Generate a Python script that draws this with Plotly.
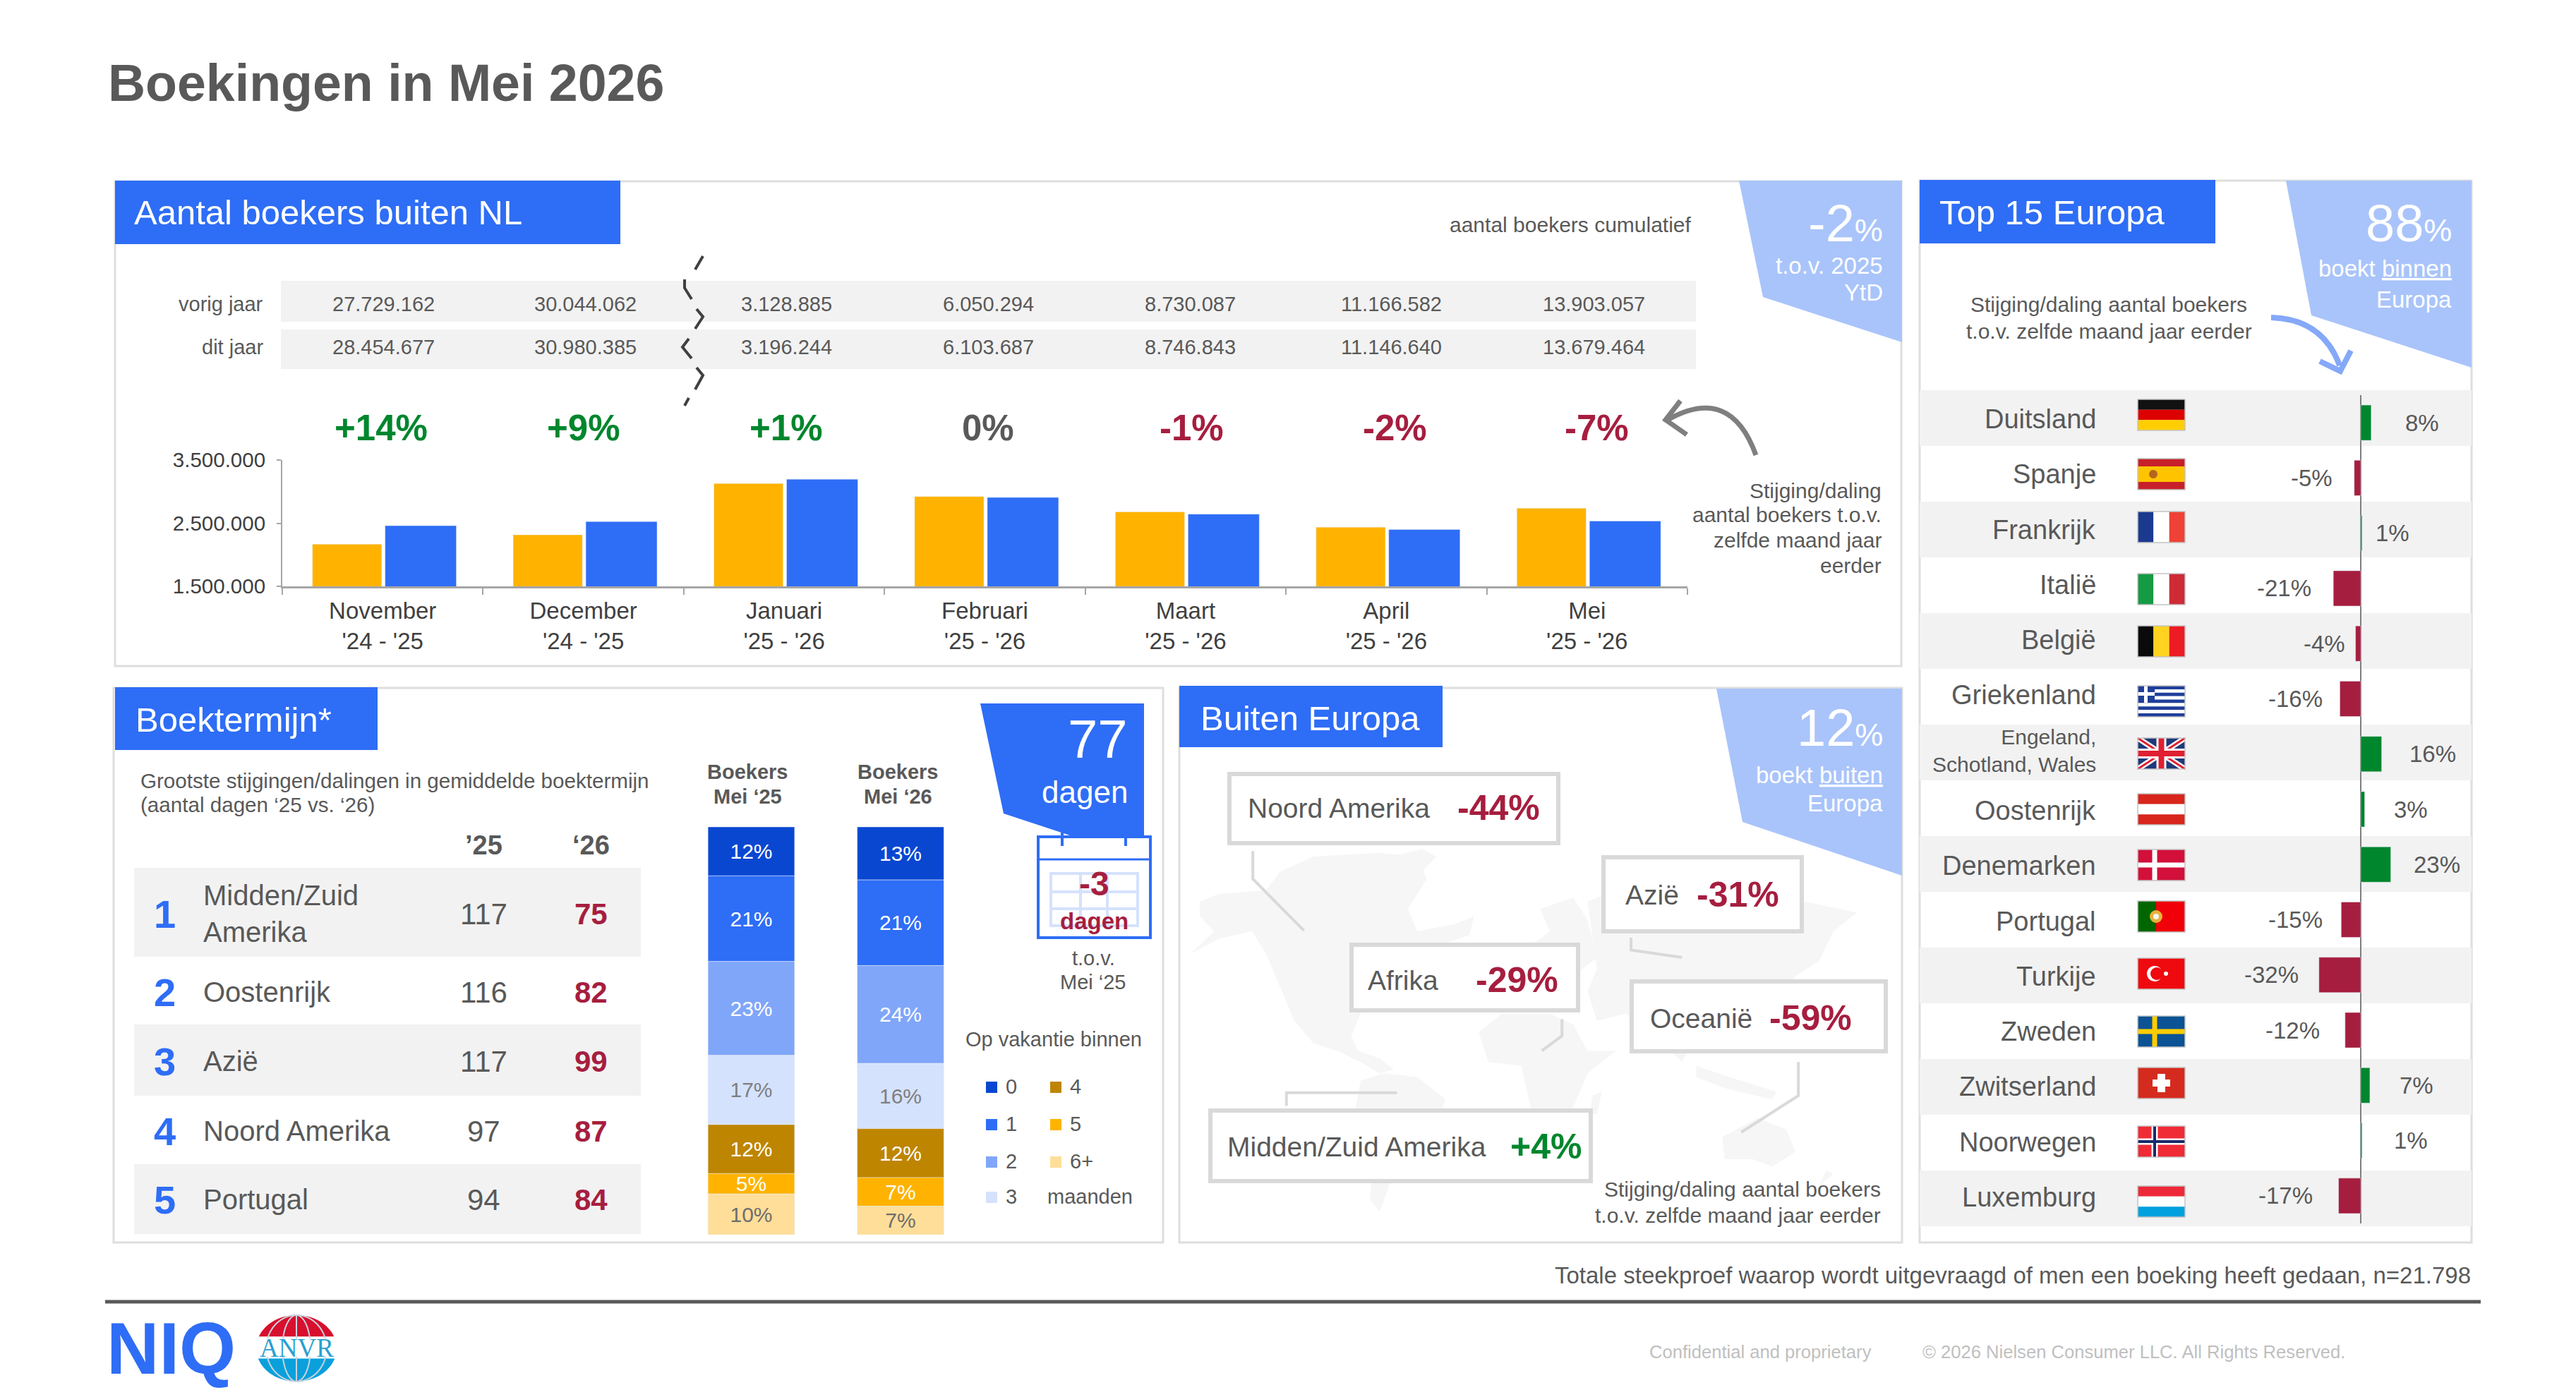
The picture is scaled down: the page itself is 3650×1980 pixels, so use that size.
import numpy as np
import plotly.graph_objects as go

W, H = 3650, 1980
FONT = "Liberation Sans"
BLUE = "#2E6DF6"
ORANGE = "#FFB300"
PALE = "#A9C4FA"
GRAY = "#595959"
DARK = "#404040"
ROW = "#F2F2F2"
EDGE = "#DEDEDE"
GREEN = "#00862D"
RED = "#A61E3F"

# Monthly bookers
MONTHS = ["November<br>'24 - '25", "December<br>'24 - '25", "Januari<br>'25 - '26", "Februari<br>'25 - '26",
          "Maart<br>'25 - '26", "April<br>'25 - '26", "Mei<br>'25 - '26"]
PREV_MONTHLY = [2167000, 2314900, 3128885, 2921409, 2679793, 2436495, 2736475]
CURR_MONTHLY = [2460000, 2525708, 3196244, 2907443, 2643156, 2399797, 2532824]
PREV_CUMULATIVE = [27729162, 30044062, 3128885, 6050294, 8730087, 11166582, 13903057]
CURR_CUMULATIVE = [28454677, 30980385, 3196244, 6103687, 8746843, 11146640, 13679464]
MONTH_CHANGE = ["+14%", "+9%", "+1%", "0%", "-1%", "-2%", "-7%"]

# Booking lead time
LEAD_NAMES = ["Midden/Zuid<br>Amerika", "Oostenrijk", "Azië", "Noord Amerika", "Portugal"]
LEAD_25 = [117, 116, 117, 97, 94]
LEAD_26 = [75, 82, 99, 87, 84]

HORIZON_NAMES = ["0", "1", "2", "3", "4", "5", "6+"]
HORIZON_COLUMNS = ["Boekers Mei '25", "Boekers Mei '26"]
HORIZON_25 = [12, 21, 23, 17, 12, 5, 10]
HORIZON_26 = [13, 21, 24, 16, 12, 7, 7]

# Regions outside Europe
REGIONS = ["Noord Amerika", "Azië", "Afrika", "Oceanië", "Midden/Zuid Amerika"]
REGION_CHANGE = ["-44%", "-31%", "-29%", "-59%", "+4%"]

# Top 15 Europe
COUNTRIES = ["Duitsland", "Spanje", "Frankrijk", "Italië", "België", "Griekenland",
             "Engeland,<br>Schotland, Wales", "Oostenrijk", "Denemarken", "Portugal",
             "Turkije", "Zweden", "Zwitserland", "Noorwegen", "Luxemburg"]
COUNTRY_CHANGE = [8, -5, 1, -21, -4, -16, 16, 3, 23, -15, -32, -12, 7, 1, -17]


def fx(x):
    return x / W


def fy(y):
    return 1 - y / H


shapes = []
notes = []


def text(x, y, s, size=30, color=GRAY, anchor="left", bold=False, font=FONT):
    if bold:
        s = f"<b>{s}</b>"
    notes.append(dict(
        x=fx(x), y=fy(y), xref="paper", yref="paper",
        text=s, showarrow=False, xanchor=anchor, yanchor="middle", align=anchor,
        font=dict(family=font, size=size, color=color), borderpad=0, borderwidth=0,
    ))


def rect(x0, y0, x1, y1, fill="rgba(0,0,0,0)", line=None, lw=0, layer="above"):
    shapes.append(dict(
        type="rect", xref="paper", yref="paper", layer=layer,
        x0=fx(x0), x1=fx(x1), y0=fy(y0), y1=fy(y1), fillcolor=fill,
        line=dict(color=line or fill, width=lw),
    ))


def to_path(points, close=False):
    d = "M" + " L".join(f"{fx(x):.5f},{fy(y):.5f}" for x, y in points)
    return d + (" Z" if close else "")


def poly(points, fill, layer="above"):
    shapes.append(dict(type="path", xref="paper", yref="paper", layer=layer,
                       path=to_path(points, True), fillcolor=fill, line=dict(width=0)))


def stroke(points, color, width, layer="above"):
    shapes.append(dict(type="path", xref="paper", yref="paper", layer=layer,
                       path=to_path(points), line=dict(color=color, width=width)))


def curve(p0, c, p1, color, width):
    path = (f"M{fx(p0[0]):.5f},{fy(p0[1]):.5f} Q{fx(c[0]):.5f},{fy(c[1]):.5f} "
            f"{fx(p1[0]):.5f},{fy(p1[1]):.5f}")
    shapes.append(dict(type="path", xref="paper", yref="paper", layer="above", path=path,
                       line=dict(color=color, width=width)))


def disc(cx, cy, r, fill):
    shapes.append(dict(type="circle", xref="paper", yref="paper", layer="above",
                       x0=fx(cx - r), x1=fx(cx + r), y0=fy(cy - r), y1=fy(cy + r),
                       fillcolor=fill, line=dict(width=0)))


def header(x0, y0, x1, y1, label, tx, ty, size=49):
    rect(x0, y0, x1, y1, BLUE)
    text(tx, ty, label, size, "white")


def big_percent(x, y, number):
    text(x, y, f'{number}<span style="font-size:45px">%</span>', 74, "white", "right")


# ---- panel frames ----
rect(163, 257, 2694, 944, line=EDGE, lw=3, layer="below")
rect(161, 975, 1648, 1761, line=EDGE, lw=3, layer="below")
rect(1671, 975, 2695, 1761, line=EDGE, lw=3, layer="below")
rect(2720, 256, 3502, 1761, line=EDGE, lw=3, layer="below")

# ---- monthly panel ----
header(163, 256, 879, 346, "Aantal boekers buiten NL", 190, 301)
text(2397, 319, "aantal boekers cumulatief", 30, GRAY, "right")
poly([(2464, 256), (2695, 256), (2695, 485), (2498, 421)], PALE)
big_percent(2668, 316, "-2")
text(2668, 376, "t.o.v. 2025", 33, "white", "right")
text(2668, 414, "YtD", 33, "white", "right")

rect(398, 398, 2403, 456, ROW, layer="below")
rect(398, 467, 2403, 523, ROW, layer="below")
text(373, 431, "vorig jaar", 29, GRAY, "right")
text(373, 492, "dit jaar", 29, GRAY, "right")
value_x = [543, 829, 1114, 1400, 1686, 1972, 2258]
for x, a, b in zip(value_x, PREV_CUMULATIVE, CURR_CUMULATIVE):
    text(x, 431, f"{a:,}".replace(",", "."), 29, GRAY, "center")
    text(x, 492, f"{b:,}".replace(",", "."), 29, GRAY, "center")

change_x = [540, 827, 1114, 1400, 1688, 1976, 2262]
for x, label in zip(change_x, MONTH_CHANGE):
    tone = GREEN if label.startswith("+") else RED if label.startswith("-") else GRAY
    text(x, 607, label, 51, tone, "center", bold=True)

# axis break marks between the two cumulative years
break_marks = [
    [(996, 363), (985, 382)],
    [(970, 396), (970, 408), (980, 424)],
    [(987, 438), (996, 449), (985, 466)],
    [(976, 480), (967, 492), (980, 508)],
    [(987, 521), (996, 532), (985, 552)],
    [(976, 564), (970, 575)],
]
for seg in break_marks:
    stroke(seg, DARK, 4)

# arrow pointing at the change row
curve((2488, 645), (2452, 545), (2363, 595), "#7F7F7F", 7)
stroke([(2381, 568), (2360, 595), (2390, 616)], "#7F7F7F", 7)
for y, line in zip([695, 729, 766, 801], ["Stijging/daling", "aantal boekers t.o.v.", "zelfde maand jaar", "eerder"]):
    text(2666, y, line, 30, GRAY, "right")

# ---- lead time panel ----
header(163, 974, 535, 1063, "Boektermijn*", 192, 1020)
text(199, 1106, "Grootste stijgingen/dalingen in gemiddelde boektermijn", 29.6)
text(199, 1140, "(aantal dagen ‘25 vs. ‘26)", 29.6)
text(685, 1198, "’25", 38, GRAY, "center", bold=True)
text(837, 1198, "‘26", 38, GRAY, "center", bold=True)
rect(190, 1230, 908, 1356, ROW, layer="below")
rect(190, 1452, 908, 1553, ROW, layer="below")
rect(190, 1650, 908, 1749, ROW, layer="below")
lead_y = [1295, 1406, 1504, 1603, 1700]
for i, (y, name, a, b) in enumerate(zip(lead_y, LEAD_NAMES, LEAD_25, LEAD_26)):
    text(234, y, str(i + 1), 56, BLUE, "center", bold=True)
    text(288, y, name, 40)
    text(685, y, str(a), 42, GRAY, "center")
    text(837, y, str(b), 42, RED, "center", bold=True)

text(1059, 1094, "Boekers", 29, GRAY, "center", bold=True)
text(1059, 1129, "Mei ‘25", 29, GRAY, "center", bold=True)
text(1272, 1094, "Boekers", 29, GRAY, "center", bold=True)
text(1272, 1129, "Mei ‘26", 29, GRAY, "center", bold=True)

poly([(1389, 997), (1621, 997), (1621, 1186), (1522, 1186), (1422, 1153)], BLUE)
text(1598, 1047, "77", 76, "white", "right")
text(1598, 1122, "dagen", 44, "white", "right")

# calendar icon
rect(1471, 1186, 1630, 1329, "white", BLUE, 4)
stroke([(1471, 1218), (1630, 1218)], BLUE, 3)
for x in (1505, 1595):
    stroke([(x, 1180), (x, 1199)], BLUE, 4)
GRID = "#D5E2FD"
rect(1489, 1238, 1612, 1312, line=GRID, lw=4)
for x in (1531, 1569):
    stroke([(x, 1238), (x, 1312)], GRID, 4)
for y in (1264, 1288):
    stroke([(1489, y), (1612, y)], GRID, 4)
text(1550, 1252, "-3", 48, RED, "center", bold=True)
text(1550, 1305, "dagen", 33, RED, "center", bold=True)
text(1549, 1358, "t.o.v.", 29, GRAY, "center")
text(1549, 1392, "Mei ‘25", 29, GRAY, "center")

# horizon legend
HORIZON_COLORS = ["#0A47D1", BLUE, "#80A6F9", "#D5E2FD", "#BE8500", ORANGE, "#FFDE99"]
HORIZON_TEXT = ["white", "white", "white", "#7F7F7F", "white", "white", "#6E6E6E"]
text(1368, 1473, "Op vakantie binnen", 29)
slots = [(1397, 1541), (1397, 1594), (1397, 1647), (1397, 1697), (1488, 1541), (1488, 1594), (1488, 1647)]
for (x, y), name, color in zip(slots, HORIZON_NAMES, HORIZON_COLORS):
    rect(x, y - 8, x + 16, y + 8, color)
    text(x + 28, y - 1, name, 29)
text(1484, 1696, "maanden", 29)

# ---- regions panel: simplified land masses behind the callouts ----
LAND = "#F6F6F6"


def land(points):
    poly([(1660 + a / 1.493, 960 + b / 1.889) for a, b in points], LAND, "below")


land([(60, 600), (100, 580), (200, 570), (230, 520), (300, 480), (440, 470), (520, 480), (540, 540), (500, 620),
      (520, 680), (600, 660), (640, 640), (630, 690), (560, 720), (500, 780), (440, 840), (400, 900), (380, 960),
      (395, 1000), (440, 1020), (470, 1050), (440, 1060), (400, 1030), (350, 1000), (300, 980), (260, 920),
      (230, 830), (200, 740), (170, 680), (100, 700), (40, 740), (90, 680), (60, 640)])
land([(430, 490), (530, 460), (560, 480), (500, 560), (450, 540)])
land([(400, 1080), (450, 1060), (520, 1070), (580, 1130), (560, 1190), (500, 1250), (470, 1330), (440, 1430),
      (420, 1400), (425, 1300), (420, 1220), (390, 1150)])
land([(650, 950), (700, 900), (800, 900), (850, 930), (880, 1000), (940, 1000), (880, 1060), (850, 1150),
      (800, 1210), (770, 1200), (750, 1100), (740, 1040), (670, 1030)])
land([(890, 1120), (910, 1110), (900, 1170), (885, 1170)])
land([(740, 800), (760, 720), (800, 680), (780, 620), (850, 590), (880, 650), (900, 750), (860, 790), (800, 780)])
land([(880, 600), (1000, 540), (1150, 560), (1300, 590), (1450, 630), (1400, 680), (1370, 760), (1320, 800),
      (1300, 860), (1220, 930), (1200, 1000), (1170, 960), (1120, 930), (1080, 1030), (1020, 960), (960, 900),
      (900, 920), (880, 840), (900, 780)])
land([(1110, 1040), (1180, 1070), (1280, 1110), (1270, 1130), (1170, 1100), (1110, 1070)])
land([(1165, 1230), (1240, 1180), (1300, 1210), (1320, 1270), (1270, 1310), (1230, 1290), (1170, 1290)])
land([(1385, 1320), (1400, 1330), (1370, 1360)])

header(1671, 972, 2044, 1059, "Buiten Europa", 1701, 1018)
poly([(2432, 976), (2695, 976), (2695, 1241), (2469, 1165)], PALE)
big_percent(2668, 1031, "12")
text(2668, 1098, "boekt <u>buiten</u>", 33, "white", "right")
text(2668, 1138, "Europa", 33, "white", "right")

CONNECTOR = "#D9D9D9"
for seg in ([(172, 465), (172, 540), (280, 678)], [(972, 697), (972, 730), (1080, 750)],
            [(826, 915), (826, 960), (783, 1000)], [(1326, 1030), (1326, 1120), (1205, 1218)],
            [(243, 1147), (243, 1112), (477, 1112)]):
    stroke([(1660 + a / 1.493, 960 + b / 1.889) for a, b in seg], CONNECTOR, 4, "below")

boxes = [(1742, 1097, 2208, 1195, 1768, 2182, 1145), (2272, 1215, 2553, 1320, 2303, 2521, 1268),
         (1915, 1339, 2236, 1432, 1938, 2208, 1389), (2312, 1391, 2672, 1490, 2338, 2624, 1443),
         (1715, 1574, 2254, 1674, 1739, 2241, 1625)]
for (x0, y0, x1, y1, nx, vx, y), name, change in zip(boxes, REGIONS, REGION_CHANGE):
    rect(x0, y0, x1, y1, "white", CONNECTOR, 6)
    text(nx, y, name, 39)
    text(vx, y, change, 50, GREEN if change.startswith("+") else RED, "right", bold=True)
text(2665, 1685, "Stijging/daling aantal boekers", 30, GRAY, "right")
text(2665, 1722, "t.o.v. zelfde maand jaar eerder", 30, GRAY, "right")

# ---- top 15 panel ----
header(2720, 255, 3139, 345, "Top 15 Europa", 2748, 301, 49)
poly([(3239, 256), (3502, 256), (3502, 521), (3275, 447)], PALE)
big_percent(3474, 317, "88")
text(3474, 380, "boekt <u>binnen</u>", 33, "white", "right")
text(3474, 424, "Europa", 33, "white", "right")
text(2988, 432, "Stijging/daling aantal boekers", 30, GRAY, "center")
text(2988, 469, "t.o.v. zelfde maand jaar eerder", 30, GRAY, "center")
curve((3218, 450), (3291, 452), (3315, 518), "#85A8F8", 8)
stroke([(3287, 512), (3316, 526), (3331, 497)], "#85A8F8", 8)

for i in range(0, 15, 2):
    rect(2720, 553 + 79 * i, 3502, 553 + 79 * (i + 1), ROW, layer="below")

label_x = [3432, 3275, 3390, 3236, 3293, 3252, 3447, 3416, 3453, 3252, 3218, 3248, 3424, 3416, 3238]
for i, (name, value, x) in enumerate(zip(COUNTRIES, COUNTRY_CHANGE, label_x)):
    size = 30 if "<br>" in name else 38
    notes.append(dict(x=fx(2972), y=name, xref="paper", yref="y3", text=name, showarrow=False, xanchor="right",
                      align="right", yanchor="middle", yshift=5 if i < 7 else -2,
                      font=dict(family=FONT, size=size, color=GRAY)))
    notes.append(dict(x=fx(x), y=name, xref="paper", yref="y3", text=f"{value}%", showarrow=False, xanchor="center",
                      yanchor="middle", font=dict(family=FONT, size=33, color=GRAY)))

# flags
FX0, FX1 = 3029, 3096
flag_y = [588, 672, 747, 835, 909, 994, 1068, 1147, 1226, 1299, 1380, 1462, 1535, 1618, 1703]
FH = 22


def hstripes(y, colors):
    n = len(colors)
    top = y - FH
    for i, c in enumerate(colors):
        rect(FX0, top + 2 * FH * i / n, FX1, top + 2 * FH * (i + 1) / n, c)


def vstripes(y, colors):
    n = len(colors)
    w = FX1 - FX0
    for i, c in enumerate(colors):
        rect(FX0 + w * i / n, y - FH, FX0 + w * (i + 1) / n, y + FH, c)


def nordic(y, base, cross, inner=None, cross_w=8, inner_w=3):
    rect(FX0, y - FH, FX1, y + FH, base)
    cx = FX0 + 24
    rect(cx - cross_w / 2, y - FH, cx + cross_w / 2, y + FH, cross)
    rect(FX0, y - cross_w / 2, FX1, y + cross_w / 2, cross)
    if inner:
        rect(cx - inner_w / 2, y - FH, cx + inner_w / 2, y + FH, inner)
        rect(FX0, y - inner_w / 2, FX1, y + inner_w / 2, inner)


y0 = iter(flag_y)
hstripes(next(y0), ["#111111", "#DD0000", "#FFCE00"])
y = next(y0)
hstripes(y, ["#C8202A", "#FFC400", "#FFC400", "#C8202A"])
disc(FX0 + 22, y, 6, "#B5651D")
vstripes(next(y0), ["#1B3A8F", "#FFFFFF", "#EF4135"])
vstripes(next(y0), ["#169B45", "#FFFFFF", "#CE2B37"])
vstripes(next(y0), ["#0A0A0A", "#FFD320", "#ED1C24"])
y = next(y0)
hstripes(y, ["#1F3F9A", "#FFFFFF"] * 4 + ["#1F3F9A"])
rect(FX0, y - FH, FX0 + 24, y - FH + 24, "#1F3F9A")
rect(FX0 + 9, y - FH, FX0 + 14, y - FH + 24, "#FFFFFF")
rect(FX0, y - FH + 9, FX0 + 24, y - FH + 14, "#FFFFFF")
y = next(y0)
rect(FX0, y - FH, FX1, y + FH, "#1F3A7A")
mid = (FX0 + FX1) / 2
stroke([(FX0, y - FH), (FX1, y + FH)], "#FFFFFF", 8)
stroke([(FX0, y + FH), (FX1, y - FH)], "#FFFFFF", 8)
stroke([(FX0, y - FH), (FX1, y + FH)], "#E02030", 3)
stroke([(FX0, y + FH), (FX1, y - FH)], "#E02030", 3)
rect(mid - 7, y - FH, mid + 7, y + FH, "#FFFFFF")
rect(FX0, y - 7, FX1, y + 7, "#FFFFFF")
rect(mid - 4, y - FH, mid + 4, y + FH, "#E02030")
rect(FX0, y - 4, FX1, y + 4, "#E02030")
hstripes(next(y0), ["#D8261C", "#FFFFFF", "#D8261C"])
nordic(next(y0), "#D2103A", "#FFFFFF", cross_w=7)
y = next(y0)
rect(FX0, y - FH, FX1, y + FH, "#F00008")
rect(FX0, y - FH, FX0 + 26, y + FH, "#006600")
disc(FX0 + 26, y, 9, "#E8B23A")
disc(FX0 + 26, y, 4, "#F4F4F4")
y = next(y0)
rect(FX0, y - FH, FX1, y + FH, "#EE0A0F")
disc(FX0 + 24, y, 11, "#FFFFFF")
disc(FX0 + 27, y, 9, "#EE0A0F")
disc(FX0 + 40, y, 3, "#FFFFFF")
nordic(next(y0), "#0B5394", "#FFCC00", cross_w=7)
y = next(y0)
rect(FX0, y - FH, FX1, y + FH, "#D52B1E")
rect(FX0 + 28, y - 13, FX0 + 39, y + 13, "#FFFFFF")
rect(FX0 + 21, y - 5, FX0 + 46, y + 5, "#FFFFFF")
nordic(next(y0), "#EF2B36", "#FFFFFF", "#1B2A6B", cross_w=9, inner_w=4)
hstripes(next(y0), ["#ED2939", "#FFFFFF", "#00A1DE"])
for y in flag_y:
    rect(FX0, y - FH, FX1, y + FH, line="#C4C4C4", lw=1.5)

# ---- footer ----
text(3501, 1807, "Totale steekproef waarop wordt uitgevraagd of men een boeking heeft gedaan, n=21.798", 33, GRAY, "right")
stroke([(149, 1845), (3515, 1845)], GRAY, 5)
text(2337, 1916, "Confidential and proprietary", 25.6, "#BFBFBF")
text(2724, 1916, "© 2026 Nielsen Consumer LLC. All Rights Reserved.", 25.6, "#BFBFBF")
text(151, 1911, "NIQ", 103, BLUE, bold=True)

# association globe
cx, cy, rx, ry = 420, 1911, 57, 47
angle = np.linspace(0, 2 * np.pi, 121)
globe = list(zip(cx + rx * np.cos(angle), cy + ry * np.sin(angle)))
poly([p for p in globe if p[1] < 1896], "#D80F2E")
poly([p for p in globe if p[1] > 1924], "#0AA0DC")
for scale in (0.35, 0.75):
    stroke(list(zip(cx + scale * rx * np.cos(angle), cy + ry * np.sin(angle))), "#C9D3DC", 2)
stroke([(cx, cy - ry), (cx, cy + ry)], "#C9D3DC", 2)
rect(cx - rx, 1897, cx + rx, 1923, "white")
text(cx, 1910, "ANVR", 37, "#2B9FD0", "center", font="Liberation Serif")

# ---- charts ----
fig = go.Figure()
fig.add_bar(x=MONTHS, y=PREV_MONTHLY, name="vorig jaar", marker_color=ORANGE, width=0.345, offset=-0.35,
            xaxis="x", yaxis="y")
fig.add_bar(x=MONTHS, y=CURR_MONTHLY, name="dit jaar", marker_color=BLUE, width=0.355, offset=0.012,
            xaxis="x", yaxis="y")

for k, name in enumerate(HORIZON_NAMES):
    values = [HORIZON_25[k], HORIZON_26[k]]
    bases = [sum(HORIZON_25[:k]), sum(HORIZON_26[:k])]
    fig.add_bar(
        x=HORIZON_COLUMNS, y=values, base=bases, name=name, width=0.58, marker_color=HORIZON_COLORS[k],
        text=[f"{v}%" for v in values], textposition="inside", insidetextanchor="middle", textangle=0,
        constraintext="none", insidetextfont=dict(family=FONT, size=30, color=HORIZON_TEXT[k]),
        xaxis="x2", yaxis="y2",
    )

fig.add_bar(
    y=COUNTRIES, x=COUNTRY_CHANGE, orientation="h", width=0.64, name="verandering",
    marker_color=[GREEN if v > 0 else RED for v in COUNTRY_CHANGE], xaxis="x3", yaxis="y3",
)

fig.update_layout(
    width=W, height=H, autosize=False, margin=dict(l=0, r=0, t=0, b=0, pad=0, autoexpand=False),
    paper_bgcolor="white", plot_bgcolor="rgba(0,0,0,0)", barmode="overlay", showlegend=False,
    separators=",.", hovermode=False, font=dict(family=FONT, color=GRAY),
    title=dict(text="<b>Boekingen in Mei 2026</b>", x=fx(153), y=fy(117), xanchor="left", yanchor="middle",
               xref="paper", yref="paper", font=dict(family=FONT, size=73.5, color=GRAY)),
    xaxis=dict(domain=[fx(400), fx(2391)], anchor="y", type="category", tickson="boundaries", ticks="outside",
               ticklen=9, tickwidth=2, tickcolor="#A6A6A6", showline=True, linecolor="#A6A6A6", linewidth=3,
               showgrid=False, tickfont=dict(family=FONT, size=33, color=DARK), ticklabelstandoff=3),
    yaxis=dict(domain=[fy(831), fy(652)], anchor="x", range=[1500000, 3500000], tickvals=[1500000, 2500000, 3500000],
               tickformat=",d", ticks="outside", ticklen=6, tickwidth=2, tickcolor="#A6A6A6", showline=True,
               linecolor="#A6A6A6", linewidth=2, showgrid=False, zeroline=False, ticklabelstandoff=10,
               tickfont=dict(family=FONT, size=29.5, color=DARK)),
    xaxis2=dict(domain=[fx(958.75), fx(1381.75)], anchor="y2", type="category", visible=False),
    yaxis2=dict(domain=[fy(1750), fy(1172)], anchor="x2", range=[100, 0], visible=False),
    xaxis3=dict(domain=[fx(3345 - 74), fx(3345 + 74)], anchor="y3", range=[-40, 40], showticklabels=False, ticks="",
                showgrid=False, showline=False, zeroline=True, zerolinecolor="#7F7F7F", zerolinewidth=2),
    yaxis3=dict(domain=[fy(1734), fy(560)], anchor="x3", type="category", categoryorder="array",
                categoryarray=COUNTRIES, range=[14.5, -0.5], visible=False),
    shapes=shapes, annotations=notes,
)

fig.write_html("out.html", config=dict(displayModeBar=False))
